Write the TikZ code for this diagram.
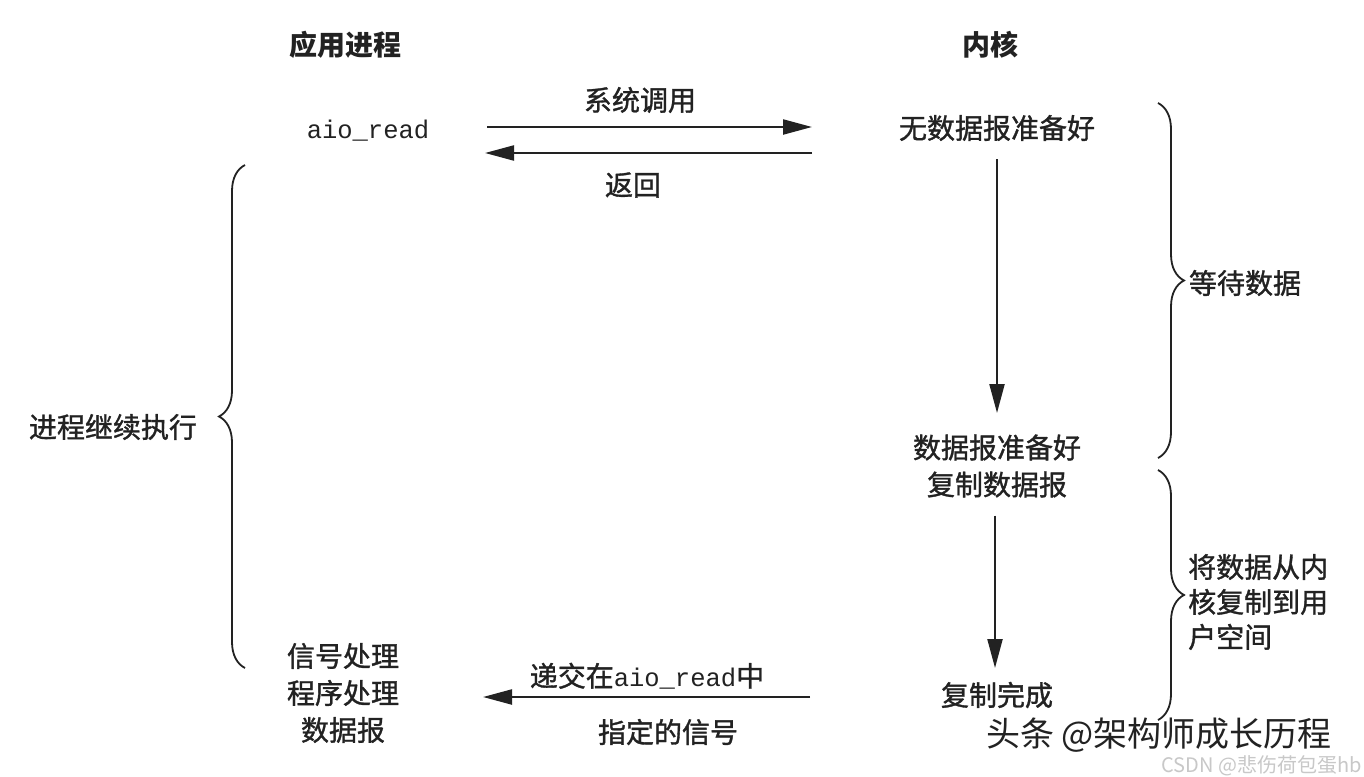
\documentclass[tikz,border=0pt]{standalone}
\usepackage{fontspec}
\setmainfont{Noto Sans CJK SC}
\newfontfamily\cjk[FakeBold=1.2]{Noto Sans CJK SC}
\newfontfamily\cjkwm{Noto Sans CJK SC}
\newfontfamily\mono{Liberation Mono}
\usetikzlibrary{arrows.meta,decorations.pathreplacing}
\definecolor{ink}{HTML}{222222}
\definecolor{wm}{HTML}{C8C8C8}
\begin{document}
\begin{tikzpicture}[x=1pt,y=-1pt,
  txt/.style={inner sep=0pt,text=ink,font=\cjk\fontsize{28}{37}\selectfont},
  head/.style={txt,font=\cjkwm\bfseries\fontsize{28}{36}\selectfont},
  arr/.style={draw=ink,line width=2.2pt,-{Triangle[length=29pt,width=15pt]}},
  brc/.style={draw=ink,line width=1.8pt,decorate,decoration={brace,amplitude=26pt}}]
\useasboundingbox[fill=white] (0,0) rectangle (1364,776);

% headers
\node[head] (hp) at (345,45) {应用进程};
\node[head] (hk) at (990,45) {内核};

% process side
\node[txt,font=\mono\fontsize{25.5}{30}\selectfont] (aio) at (368,131) {aio\_read};
\node[txt,align=center] (sig) at (343,693) {信号处理\\程序处理\\数据报};
\node[txt] (cont) at (113,427) {进程继续执行};

% kernel side
\node[txt] (k1) at (997,128) {无数据报准备好};
\node[txt,align=center] (k2) at (997,466) {数据报准备好\\复制数据报};
\node[txt] (k3) at (997,695) {复制完成};

% right labels
\node[txt] (wait) at (1245,283) {等待数据};
\node[txt,align=left,anchor=west,font=\cjk\fontsize{28}{35}\selectfont] (copy) at (1188,602) {将数据从内\\核复制到用\\户空间};

% connector end points
\coordinate (c1a) at (487,127);
\coordinate (c1b) at (812,127);
\coordinate (c2a) at (812,153);
\coordinate (c2b) at (485,153);
\coordinate (c3a) at (810,697);
\coordinate (c3b) at (483,697);

% horizontal arrows
\draw[arr] (c1a) -- (c1b);
\draw[arr] (c2a) -- (c2b);
\draw[arr] (c3a) -- (c3b);
\node[txt] (l1) at (640,100) {系统调用};
\node[txt] (l2) at (633,185) {返回};
\node[txt] (l3) at (647,676) {递交在{\mono\fontsize{25.5}{30}\selectfont aio\_read}中};
\node[txt] (l4) at (668,732) {指定的信号};

% vertical arrows
\draw[arr] (k1.south) ++(0,18) coordinate (v1a) (v1a) -- (997,413) coordinate (v1b);
\draw[arr] (k2.south) ++(-2,18) coordinate (v2a) (v2a) -- (995,668) coordinate (v2b);

% braces
\draw[brc] (1158,103) -- (1158,458);
\draw[brc] (1158,470) -- (1158,720);
\draw[brc] (245,668) -- (245,165);

% watermarks
\node[inner sep=0pt,text=wm,font=\cjkwm\fontsize{20}{24}\selectfont,anchor=east] (wm2) at (1362,766) {CSDN @悲伤荷包蛋hb};
\node[inner sep=0pt,text=ink,font=\cjkwm\fontsize{34}{38}\selectfont,anchor=west] (wm1) at (986,735) {头条 @架构师成长历程};
\end{tikzpicture}
\end{document}
